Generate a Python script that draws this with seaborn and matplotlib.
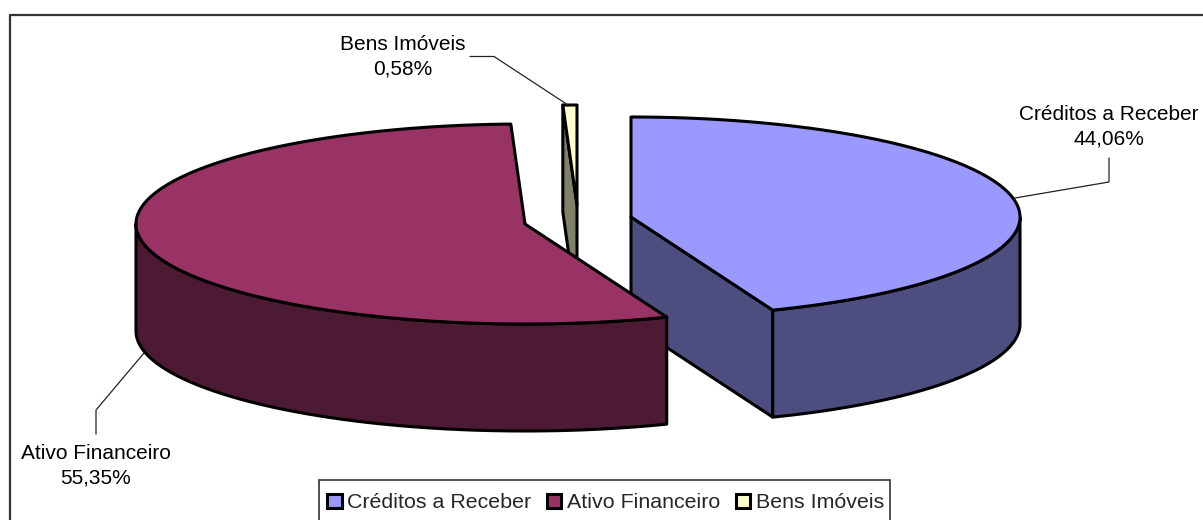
import numpy as np
import pandas as pd
import matplotlib
matplotlib.use("Agg")
import matplotlib.pyplot as plt
from matplotlib.patches import Patch, Rectangle
import seaborn as sns

categories = ["Créditos a Receber", "Ativo Financeiro", "Bens Imóveis"]
values = [44.06, 55.35, 0.58]
value_labels = ["44,06%", "55,35%", "0,58%"]
top_colors = ["#9999FF", "#993366", "#FFFFCC"]
side_colors = ["#4D4D80", "#4D1A33", "#808066"]

sns.set_theme(style="white")
plt.rcParams["font.family"] = ["Liberation Sans", "DejaVu Sans"]

# pie layout, in pixels of the picture
centers = [(631, 217), (525, 224), (577, 205)]
rx, ry, depth = 389, 100, 107


def point(c, t):
    a = np.radians(t)
    return c[0] + rx * np.sin(a), c[1] - ry * np.cos(a)


def arc(c, t0, t1):
    ts = np.linspace(t0, t1, max(2, int(abs(t1 - t0) * 2)))
    return point(c, ts)


def draw_poly(ax, x, y, color, z):
    ax.fill(x, y, facecolor=color, edgecolor="black", lw=2.2, joinstyle="round", zorder=z)


fig = plt.figure(figsize=(12.03, 5.2), dpi=100)
ax = fig.add_axes([0, 0, 1, 1])
ax.set_xlim(0, 1203)
ax.set_ylim(520, 0)
ax.axis("off")

df = pd.DataFrame({"cat": categories, "val": values})
df["share"] = df["val"] / df["val"].sum() * 360
df["end"] = df["share"].cumsum()
df["start"] = df["end"] - df["share"]

# back to front: yellow, blue, red
for i, z in zip([2, 0, 1], [3, 4, 6]):
    c = centers[i]
    t0, t1 = df.loc[i, "start"], df.loc[i, "end"]
    # cut face seen from the front
    if i == 0:
        ex, ey = point(c, t1)
        draw_poly(ax, [c[0], ex, ex, c[0]], [c[1], ey, ey + depth, c[1] + depth], side_colors[i], z)
    if i == 2:
        ex, ey = point(c, t0)
        draw_poly(ax, [ex, c[0], c[0], ex], [ey, c[1], c[1] + depth, ey + depth], side_colors[i], z)
    # outer wall, front part only
    w0, w1 = max(t0, 90), min(t1, 270)
    if w1 > w0:
        wx, wy = arc(c, w0, w1)
        draw_poly(ax, np.r_[wx, wx[::-1]], np.r_[wy, wy[::-1] + depth], side_colors[i], z)
    # top
    ax_x, ax_y = arc(c, t0, t1)
    draw_poly(ax, np.r_[c[0], ax_x], np.r_[c[1], ax_y], top_colors[i], z + 0.5)

# label leaders and texts
leaders = [
    ([1109, 1109, 1015], [158, 182, 198]),
    ([96, 96, 144], [434, 410, 353]),
    ([470, 494, 568], [56.5, 56.5, 105]),
]
label_pos = [(1109, 127), (95.5, 466), (402.5, 57)]
for i in range(3):
    ax.plot(leaders[i][0], leaders[i][1], color="#222222", lw=0.9, zorder=8)
    ax.text(label_pos[i][0], label_pos[i][1], categories[i] + "\n" + value_labels[i],
            ha="center", va="center", fontsize=15, color="black", linespacing=1.34, zorder=9)

# chart frame: only top and left are inside the picture
ax.plot([10, 10, 1203], [520, 14.5, 14.5], color="#333333", lw=1.6, clip_on=False, zorder=1)

# legend box runs off the bottom of the picture
ax.add_patch(Rectangle((319, 480), 571, 60, facecolor="white", edgecolor="#333333", lw=1.2, zorder=9))
handles = [Patch(facecolor=top_colors[i], edgecolor="black", lw=2.2, label=categories[i]) for i in range(3)]
leg = ax.legend(handles=handles, loc="center left", bbox_to_anchor=(327 / 1203, 17 / 520, 557 / 1203, 0),
                mode="expand", ncol=3, frameon=False, fontsize=15.4, handlelength=0.68,
                handleheight=0.68, handletextpad=0.25, columnspacing=0.5, borderaxespad=0, borderpad=0)
leg.set_zorder(10)

fig.savefig("out.png", dpi=100)
